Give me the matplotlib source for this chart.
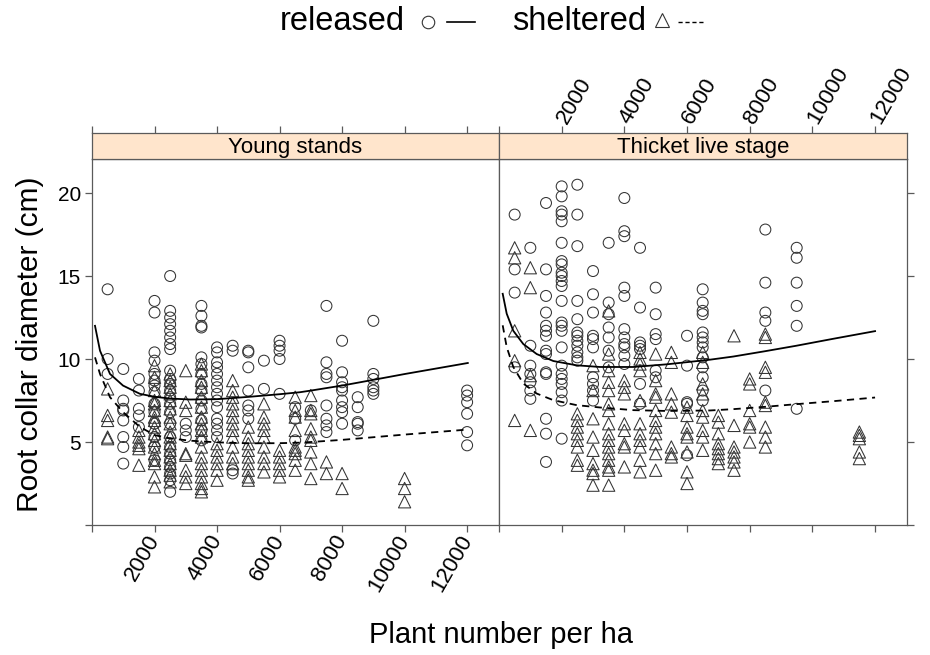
import matplotlib
matplotlib.use("Agg")
import matplotlib.pyplot as plt
from matplotlib.lines import Line2D
import numpy as np

plt.rcParams['font.family'] = ['Liberation Sans', 'DejaVu Sans']

panel_titles = ['Young stands', 'Thicket live stage']
x_ticks = [0, 2000, 4000, 6000, 8000, 10000, 12000]
x_tick_labels = ['', '2000', '4000', '6000', '8000', '10000', '12000']
y_ticks = [0, 5, 10, 15, 20]
y_tick_labels = ['', '5', '10', '15', '20']

# plant number per ha -> root collar diameters (cm)
young_released = {
    500: [14.2, 10.0, 9.1],
    1000: [9.4, 7.5, 7.0, 6.9, 6.3, 5.3, 4.7, 3.7],
    1500: [8.8, 8.1, 7.0, 6.6, 5.9],
    2000: [13.5, 12.8, 10.4, 9.9, 9.1, 8.7, 8.4, 8.0, 7.3, 6.8, 6.1, 5.3, 4.7, 3.9],
    2500: [15.0, 12.9, 12.5, 12.1, 11.7, 11.3, 10.9, 10.6, 9.3, 8.8, 8.5, 8.1, 7.7,
           7.3, 6.8, 6.1, 5.3, 4.7, 4.3, 3.9, 3.5, 3.1, 2.7, 2.0],
    3000: [6.1, 5.7, 5.3],
    3500: [13.2, 12.6, 12.0, 11.9, 10.1, 9.7, 9.1, 8.5, 8.1, 7.5, 7.0, 6.3, 5.7, 5.1],
    4000: [10.7, 10.4, 9.8, 9.5, 9.1, 8.7, 8.3, 7.9, 7.5, 7.1, 6.4, 6.1, 5.7, 5.3],
    4500: [10.8, 10.5, 3.3, 3.1],
    5000: [10.5, 10.4, 9.5, 8.1, 7.2, 6.9, 6.4],
    5500: [9.9, 8.2],
    6000: [11.1, 10.8, 10.5, 10.0, 7.9],
    6500: [7.1, 6.4, 5.1],
    7000: [6.9],
    7500: [13.2, 9.8, 9.1, 8.9, 7.2, 6.4, 6.0, 5.6],
    8000: [11.1, 9.2, 8.6, 8.3, 8.1, 7.5, 7.1, 6.8, 6.1],
    8500: [7.7, 7.1, 6.2, 6.1, 5.7],
    9000: [12.3, 9.1, 8.8, 8.3, 8.1, 7.9],
    12000: [8.1, 7.8, 7.4, 6.7, 5.6, 4.8],
}
young_sheltered = {
    500: [8.2, 6.6, 6.3, 5.3, 5.2],
    1500: [5.7, 5.3, 5.0, 4.8, 4.6, 3.6],
    2000: [9.6, 8.9, 8.1, 7.5, 7.3, 6.9, 6.5, 6.3, 5.9, 5.5, 5.1, 4.7, 4.3, 3.9,
           3.7, 2.9, 2.3],
    2500: [9.1, 8.7, 8.3, 7.9, 7.5, 7.0, 6.5, 6.1, 5.6, 5.3, 4.9, 4.5, 4.1, 3.7,
           3.3, 3.0, 2.6],
    3000: [9.3, 7.4, 6.9, 4.3, 4.2, 3.3, 2.9, 2.5],
    3500: [9.7, 9.3, 8.7, 8.3, 7.7, 7.1, 6.5, 6.1, 5.7, 5.3, 4.7, 4.1, 3.7, 3.3,
           2.9, 2.5, 2.2, 2.0],
    4000: [4.9, 4.5, 4.1, 3.7, 3.3, 2.7],
    4500: [8.7, 8.1, 7.7, 7.3, 6.9, 6.5, 6.1, 5.7, 5.3, 4.7, 4.1, 3.7],
    5000: [5.9, 5.3, 4.9, 4.5, 4.1, 3.7, 3.3, 2.9, 2.7],
    5500: [7.3, 6.5, 6.1, 5.7, 5.3, 4.7, 4.1, 3.7, 3.2],
    6000: [4.5, 4.1, 3.7, 3.3, 2.9],
    6500: [7.7, 6.9, 6.5, 5.7, 4.7, 4.5, 4.3, 3.9, 3.3],
    7000: [7.8, 6.9, 6.7, 5.8, 5.3, 5.1, 4.4, 3.7, 2.8],
    7500: [3.8, 3.1],
    8000: [3.1, 2.2],
    10000: [2.8, 2.2, 1.4],
}
thicket_released = {
    500: [18.7, 15.4, 14.0, 9.5],
    1000: [16.7, 10.8, 9.6, 9.1, 8.6, 8.1, 7.6],
    1500: [19.4, 15.4, 13.8, 12.8, 12.0, 11.7, 11.4, 10.5, 10.3, 9.2, 9.1, 6.4,
           5.5, 3.8],
    2000: [20.4, 19.8, 18.9, 18.7, 18.3, 17.0, 15.9, 15.7, 15.2, 15.0, 14.7, 14.4,
           13.5, 12.2, 12.0, 11.7, 10.7, 9.6, 9.1, 8.8, 8.5, 8.0, 7.5, 5.2],
    2500: [20.5, 18.7, 16.8, 13.5, 12.4, 11.6, 11.4, 11.1, 10.8, 10.4, 10.1, 9.9],
    3000: [15.3, 13.9, 12.8, 11.4, 11.2, 10.7, 8.9, 8.5, 8.1, 7.5],
    3500: [17.0, 13.4, 12.7, 11.9, 11.3, 10.5, 9.5],
    4000: [19.7, 17.7, 17.4, 14.3, 13.8, 11.8, 11.3, 10.9, 10.7, 10.2, 9.7],
    4500: [16.7, 13.1, 11.0, 10.8, 10.6, 8.5, 7.3],
    5000: [14.3, 12.7, 11.5, 11.2, 9.3, 8.9],
    6000: [11.4, 9.6, 7.4, 7.3, 4.2],
    6500: [14.2, 13.4, 12.9, 12.7, 11.6, 11.3, 11.0, 10.7, 10.1, 9.5, 8.9, 8.1, 7.5],
    8500: [17.8, 14.6, 12.8, 12.3, 8.1],
    9500: [16.7, 16.1, 14.6, 13.2, 12.0, 7.0],
}
thicket_sheltered = {
    500: [16.7, 16.1, 11.7, 9.9, 6.3],
    1000: [15.5, 14.3, 9.0, 5.7],
    2500: [6.7, 6.3, 5.9, 5.5, 5.1, 4.7, 3.9, 3.6],
    3000: [9.6, 8.1, 6.4, 5.3, 4.5, 3.7, 3.3, 3.1, 2.4],
    3500: [12.9, 10.3, 9.3, 8.6, 8.1, 7.3, 6.9, 6.1, 5.5, 5.1, 4.7, 4.3, 3.9, 3.5,
           3.3, 2.4],
    4000: [8.7, 8.3, 7.9, 6.1, 5.7, 4.9, 4.7, 3.5],
    4500: [10.4, 10.0, 9.7, 9.3, 7.5, 6.1, 5.5, 5.1, 4.7, 3.9, 3.2],
    5000: [10.3, 8.7, 7.9, 7.7, 6.9, 6.3, 5.9, 5.5, 4.9, 4.3, 3.3],
    5500: [10.4, 9.8, 7.9, 7.3, 6.8, 4.7, 4.3, 4.1],
    6000: [7.1, 6.6, 5.9, 5.5, 5.3, 4.4, 3.2, 2.5],
    6500: [10.4, 9.8, 8.5, 7.9, 6.9, 6.5, 5.7, 5.3, 4.5],
    7000: [6.6, 6.2, 5.5, 4.9, 4.6, 4.3, 4.0, 3.7],
    7500: [11.4, 6.0, 4.7, 4.4, 4.1, 3.8, 3.3],
    8000: [8.8, 8.5, 6.9, 6.1, 5.9, 5.0],
    8500: [11.5, 11.3, 9.5, 9.2, 7.4, 7.2, 5.9, 5.3, 4.7],
    11500: [5.6, 5.4, 5.2, 4.4, 4.0],
}

# fitted curves
young_fit_x = [96, 256, 576, 992, 1536, 2016, 2496, 3136, 4000, 5014, 6006, 6656,
               7008, 8000, 9014, 10016, 12022]
young_fit_released = [12.0, 10.5, 9.1, 8.4, 7.9, 7.72, 7.62, 7.56, 7.58, 7.72, 7.88,
                      8.0, 8.1, 8.4, 8.75, 9.1, 9.76]
young_fit_sheltered = [10.1, 9.1, 7.7, 6.8, 5.9, 5.41, 5.22, 5.08, 4.98, 4.92, 4.93,
                       4.96, 5.0, 5.13, 5.29, 5.45, 5.75]
thicket_fit_x = [118, 246, 456, 776, 1203, 1733, 2480, 3224, 4287, 5353, 6735, 7478,
                 8490, 9489, 10670, 12001]
thicket_fit_released = [13.93, 12.73, 11.7, 10.9, 10.3, 9.88, 9.62, 9.52, 9.52, 9.68,
                        9.96, 10.15, 10.47, 10.8, 11.22, 11.68]
thicket_fit_sheltered = [12.03, 10.72, 9.52, 8.52, 7.92, 7.52, 7.22, 7.08, 6.92, 6.87,
                         6.9, 6.98, 7.12, 7.28, 7.46, 7.68]

released = [young_released, thicket_released]
sheltered = [young_sheltered, thicket_sheltered]
fit_x = [young_fit_x, thicket_fit_x]
fit_released = [young_fit_released, thicket_fit_released]
fit_sheltered = [young_fit_sheltered, thicket_fit_sheltered]


def flatten(groups):
    xs, ys = [], []
    for x, vals in groups.items():
        xs.extend([x] * len(vals))
        ys.extend(vals)
    return np.array(xs), np.array(ys)


W, H = 930, 655
fig = plt.figure(figsize=(W / 100, H / 100), dpi=100)

frame_col = '#5a5a5a'
mark_col = '#333333'
strip_col = '#ffe5cc'
xlim = (0, 13020)
ylim = (0, 22.05)

panel_left = [92, 499]
panel_right = [499, 907]
bottom_px, top_px, strip_top_px = 525, 159, 133

for i in range(2):
    l = panel_left[i] / W
    w = (panel_right[i] - panel_left[i]) / W
    ax = fig.add_axes([l, (H - bottom_px) / H, w, (bottom_px - top_px) / H])
    sax = fig.add_axes([l, (H - top_px) / H, w, (top_px - strip_top_px) / H])

    rx, ry = flatten(released[i])
    sx, sy = flatten(sheltered[i])
    ax.scatter(rx, ry, s=62, marker='o', facecolors='none', edgecolors=mark_col,
               linewidths=0.75, zorder=3)
    ax.scatter(sx, sy, s=78, marker='^', facecolors='none', edgecolors=mark_col,
               linewidths=0.75, zorder=3)
    ax.plot(fit_x[i], fit_released[i], color='black', lw=1.3, zorder=4)
    ax.plot(fit_x[i], fit_sheltered[i], color='black', lw=1.3, ls=(0, (4, 3)), zorder=4)

    ax.set_xlim(*xlim)
    ax.set_ylim(*ylim)
    for a in (ax, sax):
        for sp in a.spines.values():
            sp.set_color(frame_col)
            sp.set_linewidth(0.9)
    ax.set_xticks(x_ticks)
    ax.set_yticks(y_ticks)
    ax.tick_params(direction='out', length=5, width=0.9, color=frame_col,
                   labelsize=15, pad=3)

    if i == 0:
        ax.set_xticklabels(x_tick_labels, rotation=60, ha='right', va='center',
                           rotation_mode='anchor', fontsize=16)
        ax.set_yticklabels(y_tick_labels)
        ax.tick_params(axis='y', left=True, right=False, labelleft=True)
    else:
        ax.set_xticklabels([])
        ax.tick_params(axis='y', left=False, right=True, labelleft=False)
        ax.set_yticklabels([])

    sax.set_facecolor(strip_col)
    sax.set_xlim(*xlim)
    sax.set_yticks([])
    sax.set_xticks(x_ticks)
    sax.xaxis.set_ticks_position('top')
    sax.tick_params(axis='x', direction='out', length=5, width=0.9, color=frame_col,
                    labelsize=16, pad=3)
    if i == 1:
        sax.set_xticklabels(x_tick_labels, rotation=60, ha='left', va='center',
                            rotation_mode='anchor')
    else:
        sax.set_xticklabels([])
    sax.text(0.5, 0.45, panel_titles[i], transform=sax.transAxes, ha='center',
             va='center', fontsize=16)

fig.text(501 / W, 1 - 635 / H, 'Plant number per ha', ha='center', va='center',
         fontsize=21)
fig.text(30 / W, 1 - 344 / H, 'Root collar diameter (cm)', ha='center', va='center',
         rotation=90, fontsize=21.5)

# key at the top
ky = 1 - 22 / H
fig.text(280 / W, ky, 'released', ha='left', va='center', fontsize=23.5)
fig.add_artist(Line2D([428 / W], [ky], marker='o', ms=9, mfc='none', mec=mark_col,
                      mew=0.8, transform=fig.transFigure))
fig.add_artist(Line2D([447 / W, 475 / W], [ky, ky], color='black', lw=1.2,
                      transform=fig.transFigure))
fig.text(512 / W, ky, 'sheltered', ha='left', va='center', fontsize=23.5)
fig.add_artist(Line2D([662 / W], [ky + 2 / H], marker='^', ms=10, mfc='none',
                      mec=mark_col, mew=0.8, transform=fig.transFigure))
fig.add_artist(Line2D([678 / W, 705 / W], [ky, ky], color='black', lw=1.0,
                      ls=(0, (3, 2)), transform=fig.transFigure))

fig.savefig('out.png', dpi=100)
